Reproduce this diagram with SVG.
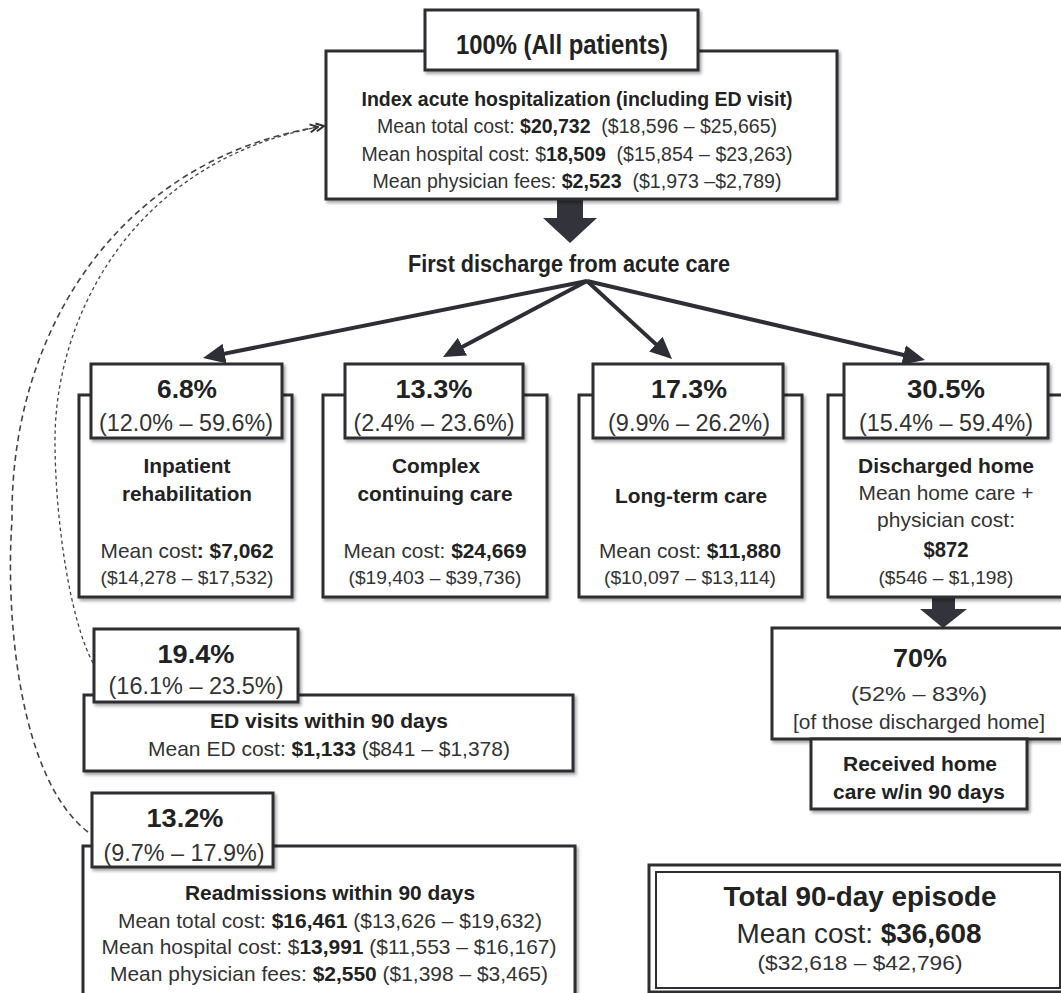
<svg xmlns="http://www.w3.org/2000/svg" width="1061" height="993" viewBox="0 0 1061 993">
<defs>
<filter id="sh" x="-5%" y="-5%" width="115%" height="125%"><feDropShadow dx="2" dy="2.5" stdDeviation="1.5" flood-color="#000" flood-opacity="0.35"/></filter>
<marker id="ah" viewBox="0 0 22 20" markerUnits="userSpaceOnUse" markerWidth="22" markerHeight="20" refX="10" refY="10" orient="auto"><path d="M0,0 L22,10 L0,20 z" fill="#2e2e36"/></marker>
<marker id="chev" viewBox="0 0 10 10" markerUnits="userSpaceOnUse" markerWidth="10" markerHeight="10" refX="9" refY="5" orient="auto"><path d="M1,1 L9,5 L1,9" fill="none" stroke="#333" stroke-width="2"/></marker>
<style>
.box{fill:#fff;stroke:#2f2f33;stroke-width:3;filter:url(#sh)}
.blk{fill:#33333b}
.t{font-family:"Liberation Sans",Arial,sans-serif;fill:#2a2a2a;text-anchor:middle}
.b{font-weight:bold;fill:#222}
.pct{font-size:26px;font-weight:bold;fill:#222}
.rng{font-size:23px;fill:#333}
.nm{font-size:21px;font-weight:bold;fill:#222}
.c20{font-size:21px;fill:#333}
.top{font-size:20px;fill:#333}
.c19{font-size:19px;fill:#333}
.arr{stroke:#2e2e36;stroke-width:4;fill:none;marker-end:url(#ah)}
.dash1{fill:none;stroke:#444;stroke-width:1.6;stroke-dasharray:6 4;marker-end:url(#chev)}
.dash2{fill:none;stroke:#444;stroke-width:1.3;stroke-dasharray:3.5 3;marker-end:url(#chev)}
</style>
</defs>
<rect width="1061" height="993" fill="#fff"/>

<g id="connectors">
<path class="dash1" d="M88,832 C20,780 5,620 12,520 C10,330 120,160 318,127"/>
<path class="dash2" d="M93,663 C70,620 55,520 55,440 C55,320 130,160 324,126"/>
<line class="arr" x1="587" y1="281" x2="214.8" y2="355.6"/>
<line class="arr" x1="587" y1="281" x2="453.6" y2="351.4"/>
<line class="arr" x1="587" y1="281" x2="663.2" y2="350.9"/>
<line class="arr" x1="587" y1="281" x2="913.3" y2="357.3"/>
<polygon class="blk" points="557,199 583,199 583,218 597,218 570,243 543,218 557,218"/>
<polygon class="blk" points="932,598 955,598 955,609 967,609 943,628 920,609 932,609"/>
</g>

<g id="index-hospitalization">
<rect class="box" x="326" y="51" width="511" height="148"/>
<rect class="box" x="425" y="10" width="273" height="60"/>
<text class="t b" x="562" y="54" font-size="28" textLength="212" lengthAdjust="spacingAndGlyphs">100% (All patients)</text>
<text class="t b" x="577" y="106" font-size="20" textLength="431" lengthAdjust="spacingAndGlyphs">Index acute hospitalization (including ED visit)</text>
<text class="t top" x="577" y="133" textLength="400" lengthAdjust="spacingAndGlyphs">Mean total cost: <tspan class="b">$20,732</tspan>&#160; ($18,596 – $25,665)</text>
<text class="t top" x="577" y="161" textLength="431" lengthAdjust="spacingAndGlyphs">Mean hospital cost: $<tspan class="b">18,509</tspan>&#160; ($15,854 – $23,263)</text>
<text class="t top" x="577" y="188" textLength="409" lengthAdjust="spacingAndGlyphs">Mean physician fees: <tspan class="b">$2,523</tspan>&#160; ($1,973 –$2,789)</text>
</g>

<g id="first-discharge">
<text class="t b" x="569" y="272" font-size="23" textLength="322" lengthAdjust="spacingAndGlyphs">First discharge from acute care</text>
</g>

<g id="inpatient-rehab">
<rect class="box" x="79" y="395" width="213" height="202"/>
<rect class="box" x="91" y="364" width="191" height="74"/>
<text class="t pct" x="187" y="398" textLength="60" lengthAdjust="spacingAndGlyphs">6.8%</text>
<text class="t rng" x="186" y="431" textLength="174" lengthAdjust="spacingAndGlyphs">(12.0% – 59.6%)</text>
<text class="t nm" x="187" y="473" textLength="87" lengthAdjust="spacingAndGlyphs">Inpatient</text>
<text class="t nm" x="187" y="501" textLength="130" lengthAdjust="spacingAndGlyphs">rehabilitation</text>
<text class="t c20" x="187" y="558" textLength="173" lengthAdjust="spacingAndGlyphs">Mean cost<tspan class="b">: $7,062</tspan></text>
<text class="t c19" x="187" y="584" textLength="173" lengthAdjust="spacingAndGlyphs">($14,278 – $17,532)</text>
</g>

<g id="complex-care">
<rect class="box" x="323" y="395" width="224" height="202"/>
<rect class="box" x="345" y="364" width="178" height="74"/>
<text class="t pct" x="434" y="398" textLength="77" lengthAdjust="spacingAndGlyphs">13.3%</text>
<text class="t rng" x="434" y="431" textLength="161" lengthAdjust="spacingAndGlyphs">(2.4% – 23.6%)</text>
<text class="t nm" x="436" y="473" textLength="88" lengthAdjust="spacingAndGlyphs">Complex</text>
<text class="t nm" x="435" y="501" textLength="155" lengthAdjust="spacingAndGlyphs">continuing care</text>
<text class="t c20" x="435" y="558" textLength="183" lengthAdjust="spacingAndGlyphs">Mean cost: <tspan class="b">$24,669</tspan></text>
<text class="t c19" x="435" y="584" textLength="173" lengthAdjust="spacingAndGlyphs">($19,403 – $39,736)</text>
</g>

<g id="long-term-care">
<rect class="box" x="579" y="395" width="223" height="202"/>
<rect class="box" x="593" y="364" width="190" height="74"/>
<text class="t pct" x="689" y="398" textLength="76" lengthAdjust="spacingAndGlyphs">17.3%</text>
<text class="t rng" x="689" y="431" textLength="162" lengthAdjust="spacingAndGlyphs">(9.9% – 26.2%)</text>
<text class="t nm" x="691" y="503" textLength="152" lengthAdjust="spacingAndGlyphs">Long-term care</text>
<text class="t c20" x="690" y="558" textLength="182" lengthAdjust="spacingAndGlyphs">Mean cost: <tspan class="b">$11,880</tspan></text>
<text class="t c19" x="690" y="584" textLength="172" lengthAdjust="spacingAndGlyphs">($10,097 – $13,114)</text>
</g>

<g id="discharged-home">
<rect class="box" x="828" y="395" width="240" height="202"/>
<rect class="box" x="844" y="364" width="204" height="74"/>
<text class="t pct" x="946" y="398" textLength="78" lengthAdjust="spacingAndGlyphs">30.5%</text>
<text class="t rng" x="946" y="431" textLength="174" lengthAdjust="spacingAndGlyphs">(15.4% – 59.4%)</text>
<text class="t nm" x="946" y="473" textLength="176" lengthAdjust="spacingAndGlyphs">Discharged home</text>
<text class="t c20" x="946" y="500" textLength="175" lengthAdjust="spacingAndGlyphs">Mean home care +</text>
<text class="t c20" x="946" y="527" textLength="138" lengthAdjust="spacingAndGlyphs">physician cost:</text>
<text class="t b" x="946" y="557" font-size="22" textLength="45" lengthAdjust="spacingAndGlyphs">$872</text>
<text class="t c19" x="946" y="584" textLength="135" lengthAdjust="spacingAndGlyphs">($546 – $1,198)</text>
</g>

<g id="home-care-70">
<rect class="box" x="772" y="628" width="295" height="111"/>
<text class="t pct" x="920" y="667" textLength="54" lengthAdjust="spacingAndGlyphs">70%</text>
<text class="t c20" x="919" y="701" textLength="136" lengthAdjust="spacingAndGlyphs">(52% – 83%)</text>
<text class="t c20" x="919" y="729" textLength="252" lengthAdjust="spacingAndGlyphs">[of those discharged home]</text>
</g>

<g id="received-home-care">
<rect class="box" x="811" y="739" width="216" height="70"/>
<text class="t nm" x="920" y="771" textLength="154" lengthAdjust="spacingAndGlyphs">Received home</text>
<text class="t nm" x="919" y="799" textLength="172" lengthAdjust="spacingAndGlyphs">care w/in 90 days</text>
</g>

<g id="ed-visits">
<rect class="box" x="84" y="695" width="489" height="76"/>
<rect class="box" x="94" y="629" width="204" height="73"/>
<text class="t pct" x="196" y="663" textLength="77" lengthAdjust="spacingAndGlyphs">19.4%</text>
<text class="t rng" x="196" y="694" textLength="175" lengthAdjust="spacingAndGlyphs">(16.1% – 23.5%)</text>
<text class="t nm" x="329" y="728" textLength="238" lengthAdjust="spacingAndGlyphs">ED visits within 90 days</text>
<text class="t c20" x="329" y="756" textLength="362" lengthAdjust="spacingAndGlyphs">Mean ED cost: <tspan class="b">$1,133</tspan> ($841 – $1,378)</text>
</g>

<g id="readmissions">
<rect class="box" x="83" y="846" width="492" height="160"/>
<rect class="box" x="92" y="793" width="181" height="74"/>
<text class="t pct" x="185" y="827" textLength="77" lengthAdjust="spacingAndGlyphs">13.2%</text>
<text class="t rng" x="184" y="861" textLength="161" lengthAdjust="spacingAndGlyphs">(9.7% – 17.9%)</text>
<text class="t nm" x="330" y="900" textLength="290" lengthAdjust="spacingAndGlyphs">Readmissions within 90 days</text>
<text class="t c20" x="330" y="928" textLength="424" lengthAdjust="spacingAndGlyphs">Mean total cost: <tspan class="b">$16,461</tspan> ($13,626 – $19,632)</text>
<text class="t c20" x="329" y="954" textLength="455" lengthAdjust="spacingAndGlyphs">Mean hospital cost: $<tspan class="b">13,991</tspan> ($11,553 – $16,167)</text>
<text class="t c20" x="329" y="981" textLength="438" lengthAdjust="spacingAndGlyphs">Mean physician fees: <tspan class="b">$2,550</tspan> ($1,398 – $3,465)</text>
</g>

<g id="total-episode">
<rect x="649" y="865" width="420" height="127" fill="#fff" stroke="#2f2f33" stroke-width="3"/>
<rect x="656" y="872" width="404" height="116" fill="#fff" stroke="#2f2f33" stroke-width="2"/>
<text class="t b" x="860" y="906" font-size="27" textLength="273" lengthAdjust="spacingAndGlyphs">Total 90-day episode</text>
<text class="t" x="859" y="943" font-size="27" fill="#333" textLength="245" lengthAdjust="spacingAndGlyphs">Mean cost: <tspan class="b">$36,608</tspan></text>
<text class="t c20" x="860" y="970" textLength="205" lengthAdjust="spacingAndGlyphs">($32,618 – $42,796)</text>
</g>
</svg>
